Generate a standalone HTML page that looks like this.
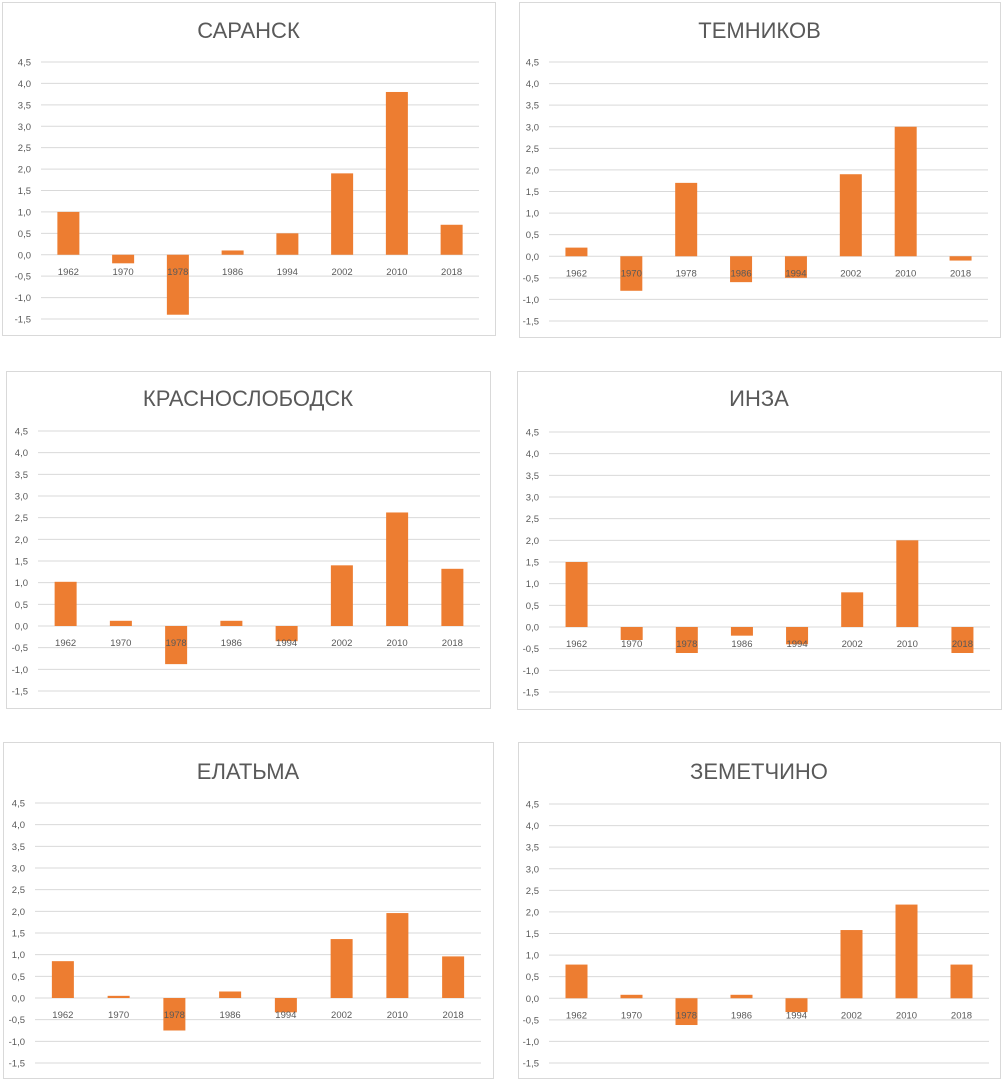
<!DOCTYPE html>
<html><head><meta charset="utf-8"><style>
body{margin:0;background:#fff;width:1004px;height:1081px;overflow:hidden;font-family:"Liberation Sans",sans-serif}
svg{position:absolute;left:0;top:0}
</style></head><body>
<svg id="c" width="1004" height="1081"></svg>
<script>
const years=["1962","1970","1978","1986","1994","2002","2010","2018"];
const yTicks=[4.5,4.0,3.5,3.0,2.5,2.0,1.5,1.0,0.5,0.0,-0.5,-1.0,-1.5];
const titles=["САРАНСК","ТЕМНИКОВ","КРАСНОСЛОБОДСК","ИНЗА","ЕЛАТЬМА","ЗЕМЕТЧИНО"];
const saransk=[1.0,-0.2,-1.4,0.1,0.5,1.9,3.8,0.7];
const temnikov=[0.2,-0.8,1.7,-0.6,-0.5,1.9,3.0,-0.1];
const krasnoslobodsk=[1.02,0.12,-0.88,0.12,-0.35,1.4,2.62,1.32];
const inza=[1.5,-0.3,-0.6,-0.2,-0.4,0.8,2.0,-0.6];
const elatma=[0.85,0.05,-0.75,0.15,-0.33,1.36,1.96,0.96];
const zemetchino=[0.78,0.08,-0.62,0.08,-0.32,1.58,2.17,0.78];
const series=[saransk,temnikov,krasnoslobodsk,inza,elatma,zemetchino];
// layout: box [x,y,w,h], plot [x0,x1,yTop,yBot], title y
const layout=[
 {b:[2,2,493,333],p:[41,479,62,319],t:30},
 {b:[519,2,481,335],p:[549,988,62,321],t:30},
 {b:[6,371,484,337],p:[38,480,431,691],t:398},
 {b:[517,371,484,338],p:[549,990,432,692],t:398},
 {b:[3,742,490,336],p:[35,481,803,1063],t:771},
 {b:[518,742,482,336],p:[549,989,804,1063],t:771}
];
const svg=document.getElementById('c');
const NS="http://www.w3.org/2000/svg";
function mk(tag,attrs,parent){const e=document.createElementNS(NS,tag);for(const k in attrs)e.setAttribute(k,attrs[k]);parent.appendChild(e);return e;}
layout.forEach((L,i)=>{
 const g=mk('g',{},svg);
 
 
 const [x0,x1,yT,yB]=L.p;
 const ymax=4.5,ymin=-1.5;
 const yS=v=>yT+(ymax-v)/(ymax-ymin)*(yB-yT);
 const bw=(x1-x0)/years.length;
 const xS=j=>x0+bw*(j+0.5);
 const box=mk('rect',{x:L.b[0]+0.5,y:L.b[1]+0.5,width:L.b[2],height:L.b[3],fill:'#fff',stroke:'#d9d9d9','stroke-width':1},g);
 
 
 const t=mk('text',{x:L.b[0]+L.b[2]/2,y:L.t+8,'text-anchor':'middle','font-size':22,fill:'#595959'},g);
 t.textContent=titles[i];
 
 
 yTicks.forEach(v=>{
  const y=yS(v);
  const ln=mk('line',{x1:x0,x2:x1,y1:y,y2:y,stroke:'#d9d9d9','stroke-width':1},g);
  
  
  const tl=mk('text',{x:x0-10,y:y+3.5,'text-anchor':'end','font-size':9.5,fill:'#595959'},g);
  tl.textContent=v.toFixed(1).replace('.',',');
  
  
 });
 const data=series[i];
 data.forEach((v,j)=>{
  const y0=yS(0),y1=yS(v);
  const r=mk('rect',{x:xS(j)-11,y:Math.min(y0,y1),width:22,height:Math.abs(y1-y0),fill:'#ed7d31'},g);
  
  
 });
 years.forEach((yr,j)=>{
  const xl=mk('text',{x:xS(j),y:yS(0)+20,'text-anchor':'middle','font-size':9.5,fill:'#595959'},g);
  xl.textContent=yr;
  
  
 });
});
</script>
</body></html>
